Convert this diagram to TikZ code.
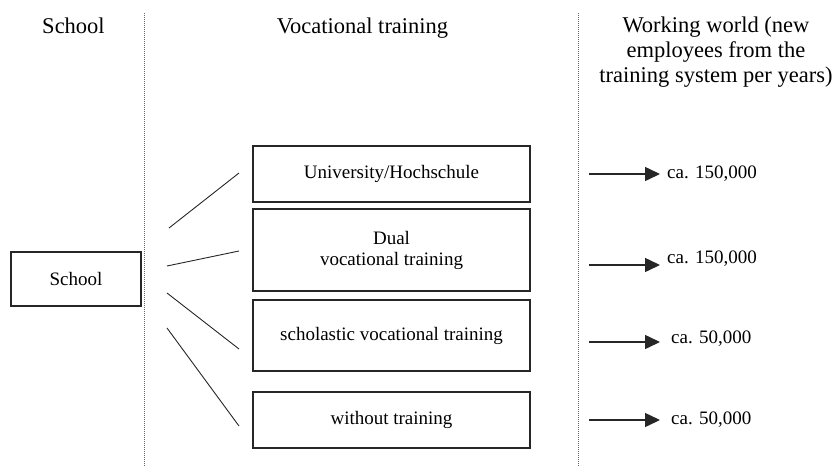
\documentclass[tikz,border=0pt]{standalone}
\usepackage{fontspec}
\setmainfont{Liberation Serif}
\newfontfamily\diagfont{Liberation Serif}
\usetikzlibrary{arrows.meta}
\begin{document}
\begin{tikzpicture}[x=1pt,y=-1pt,
  box/.style={draw=black!85,line width=1.4pt,inner sep=0pt,minimum width=277pt,font=\diagfont\fontsize{19}{21}\selectfont,align=center},
  head/.style={anchor=base,font=\diagfont\fontsize{22.5}{25}\selectfont,align=center,inner sep=0pt},
  link/.style={draw=black!85,line width=0.9pt},
  flow/.style={draw=black!85,line width=1.5pt,-{Triangle[length=15pt,width=14pt]}},
  qty/.style={anchor=west,font=\diagfont\fontsize{19}{21}\selectfont,inner sep=0pt},
  sep/.style={draw=black!60,line width=1pt,dash pattern=on 1pt off 1pt}]
\useasboundingbox (0,0) rectangle (833,467);
% separators
\coordinate (s1t) at (144,13); \coordinate (s1b) at (144,467);
\coordinate (s2t) at (578,13); \coordinate (s2b) at (578,467);
\draw[sep] (s1t) -- (s1b);
\draw[sep] (s2t) -- (s2b);
% headers
\node[head] (h1) at (73.5,33) {School};
\node[head] (h2) at (362.5,33) {Vocational training};
\node[head,anchor=north] (h3) at (716,16.5) {Working world (new\\employees from the\\training system per years)};
% boxes
\node[box,minimum width=130pt,minimum height=54pt] (school) at (76,279) {School};
\node[box,minimum height=56pt] (b1) at (391.5,174) {University/Hochschule};
\node[box,minimum height=82pt] (b2) at (391.5,250) {Dual\\ vocational training};
\node[box,minimum height=71pt] (b3) at (391.5,335.5) {scholastic vocational training};
\node[box,minimum height=56pt] (b4) at (391.5,420) {without training};
% links from school
\coordinate (l1a) at (169,228); \coordinate (l1b) at (239,173);
\coordinate (l2a) at (167,266); \coordinate (l2b) at (239,251);
\coordinate (l3a) at (167,293); \coordinate (l3b) at (239,349);
\coordinate (l4a) at (167,328); \coordinate (l4b) at (239,426);
\draw[link] (l1a) -- (l1b);
\draw[link] (l2a) -- (l2b);
\draw[link] (l3a) -- (l3b);
\draw[link] (l4a) -- (l4b);
% outputs
\coordinate (a1s) at (589,174); \coordinate (a1e) at (660,174);
\coordinate (a2s) at (589,265); \coordinate (a2e) at (660,265);
\coordinate (a3s) at (589,342); \coordinate (a3e) at (660,342);
\coordinate (a4s) at (589,420); \coordinate (a4e) at (660,420);
\draw[flow] (a1s) -- (a1e);
\draw[flow] (a2s) -- (a2e);
\draw[flow] (a3s) -- (a3e);
\draw[flow] (a4s) -- (a4e);
\node[qty] (q1) at (667,174) {ca. 150,000};
\node[qty] (q2) at (667,259) {ca. 150,000};
\node[qty] (q3) at (671,339) {ca. 50,000};
\node[qty] (q4) at (671,420) {ca. 50,000};
\end{tikzpicture}
\end{document}
